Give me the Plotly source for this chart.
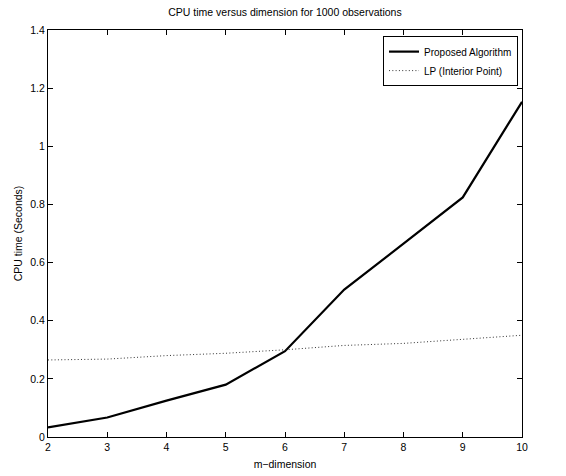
import plotly.graph_objects as go

m_dim = [2, 3, 4, 5, 6, 7, 8, 9, 10]
proposed = [0.033, 0.067, 0.125, 0.180, 0.295, 0.507, 0.665, 0.824, 1.153]
lp_interior = [0.265, 0.268, 0.280, 0.288, 0.300, 0.315, 0.322, 0.335, 0.350]
y_ticks = [0, 0.2, 0.4, 0.6, 0.8, 1.0, 1.2, 1.4]
y_tick_labels = ["0", "0.2", "0.4", "0.6", "0.8", "1", "1.2", "1.4"]

font = "Liberation Sans, Arial, Helvetica, sans-serif"
fs = 10.5

fig = go.Figure()
fig.add_trace(go.Scatter(x=m_dim, y=proposed, mode="lines", name="Proposed Algorithm",
                         line=dict(color="black", width=2.2)))
fig.add_trace(go.Scatter(x=m_dim, y=lp_interior, mode="lines", name="LP (Interior Point)",
                         line=dict(color="#333333", width=1, dash="1px,2.3px")))

axis_common = dict(showline=True, linecolor="black", linewidth=1, mirror="ticks",
                   ticks="inside", ticklen=5, tickcolor="black", showgrid=False,
                   zeroline=False, automargin=False,
                   tickfont=dict(family=font, size=fs, color="black"))

fig.update_xaxes(range=[2, 10], tickvals=m_dim, ticktext=[str(v) for v in m_dim],
                 title=dict(text="m\u2212dimension", font=dict(family=font, size=fs, color="black"),
                            standoff=9),
                 **axis_common)
fig.update_yaxes(range=[0, 1.4], tickvals=y_ticks, ticktext=y_tick_labels,
                 title=dict(text="CPU time (Seconds)", font=dict(family=font, size=fs, color="black"),
                            standoff=5),
                 **axis_common)

fig.update_layout(
    width=566, height=476,
    margin=dict(l=48, r=44, t=30, b=39),
    paper_bgcolor="white", plot_bgcolor="white",
    title=dict(text="CPU time versus dimension for 1000 observations",
               font=dict(family=font, size=fs, color="black"),
               x=0.5, xref="paper", xanchor="center", y=1 - 12 / 476, yanchor="middle"),
    legend=dict(x=0.9916, y=0.985, xanchor="right", yanchor="top",
                bordercolor="black", borderwidth=1, bgcolor="white",
                font=dict(family=font, size=10, color="black"),
                tracegroupgap=0, itemwidth=30),
    showlegend=True,
)

fig.write_html("out.html", config={"displayModeBar": False})

# remove the default page margin so the figure sits at the window origin
with open("out.html", "r", encoding="utf-8") as f:
    html = f.read()
html = html.replace("<body>", '<body style="margin:0;padding:0;overflow:hidden">', 1)
with open("out.html", "w", encoding="utf-8") as f:
    f.write(html)
